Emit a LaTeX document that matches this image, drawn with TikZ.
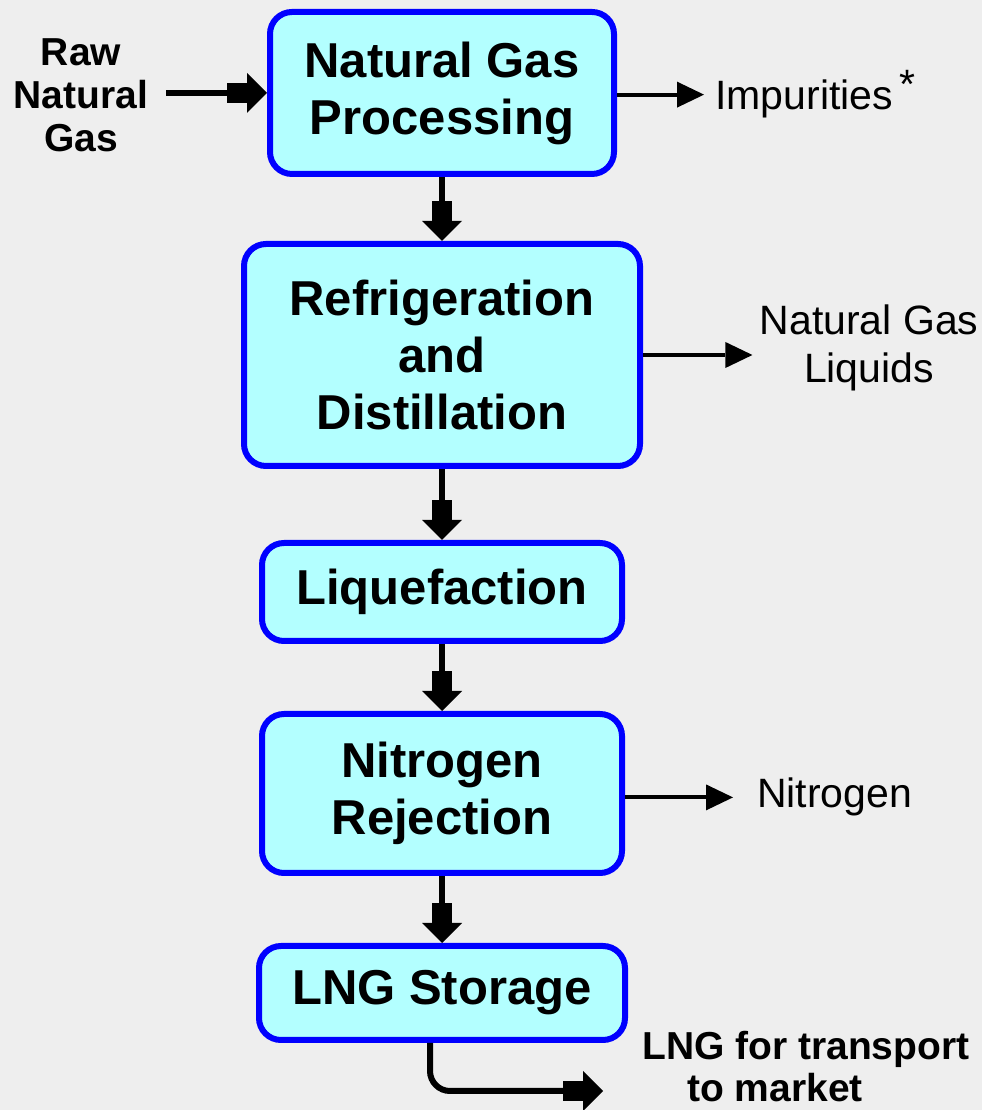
\documentclass[tikz,border=0pt]{standalone}
\usepackage{fontspec}
\setmainfont{Liberation Sans}
\usetikzlibrary{arrows.meta,positioning}
\definecolor{bggray}{HTML}{EEEEEE}
\definecolor{stagefill}{HTML}{B3FFFF}
\definecolor{stageline}{HTML}{0000FF}
\tikzset{
	every node/.style={inner sep=0pt},
	stage/.style={draw=stageline, fill=stagefill, line width=6pt, rounded corners=22pt,
		align=center, font=\fontsize{49}{57}\selectfont\bfseries},
	stream/.style={font=\fontsize{41}{48}\selectfont}
}

\begin{document}
\begin{tikzpicture}[x=1pt, y=1pt,
	flow/.style={line width=6pt,
		-{Rectangle[length=20pt,width=20pt,line width=0pt]Triangle[length=20pt,width=40pt,line width=0pt]}},
	bleed/.style={line width=4pt, -{Triangle[length=27pt,width=26pt,line width=0pt]}}]
	\fill[bggray] (0,0) rectangle (982,1110);
	\useasboundingbox (0,0) rectangle (982,1110);

	% Process stages
	\node[stage, minimum width=344pt, minimum height=162pt] (proc) at (442,1017) {Natural Gas\\Processing};
	\node[stage, minimum width=396pt, minimum height=222pt] (refr) [below=64pt of proc] {Refrigeration\\and\\Distillation};
	\node[stage, minimum width=360pt, minimum height=98pt] (liq) [below=71pt of refr] {Liquefaction};
	\node[stage, minimum width=360pt, minimum height=159pt] (nrej) [below=67pt of liq] {Nitrogen\\Rejection};
	\node[stage, minimum width=366pt, minimum height=94pt] (store) [below=67pt of nrej] {LNG Storage};

	% Feed and products
	\node[align=center, font=\fontsize{39}{43}\selectfont\bfseries] (raw) at (81,1015) {Raw\\Natural\\Gas};
	\node[stream, anchor=base west] (imp) at (715,1000) {Impurities\,\raisebox{11pt}{*}};
	\node[stream, align=center, anchor=north] (ngl) at (869,805) {Natural Gas\\Liquids};
	\node[stream, anchor=base west] (nit) at (757,302) {Nitrogen};
	\node[align=left, anchor=north west, font=\fontsize{39}{42}\selectfont\bfseries] (lng) at (642,79)
		{LNG for transport\\\hspace*{45pt}to market};
	\coordinate (market) at (603,19);

	% Main line
	\draw[flow] ([xshift=18pt]raw.east |- proc.west) -- (proc.west);
	\draw[flow] (proc) -- (refr);
	\draw[flow] (refr) -- (liq);
	\draw[flow] (liq) -- (nrej);
	\draw[flow] (nrej) -- (store);
	\draw[flow, rounded corners=20pt] ([xshift=-12pt]store.south) |- (market);

	% Side streams
	\draw[bleed] (proc.east |- imp.west) -- ([xshift=-11pt]imp.west);
	\draw[bleed] (refr.east) -- ([xshift=-7pt]refr.east -| ngl.west);
	\draw[bleed] (nrej.east |- nit.west) -- ([xshift=-24pt]nit.west);
\end{tikzpicture}
\end{document}
